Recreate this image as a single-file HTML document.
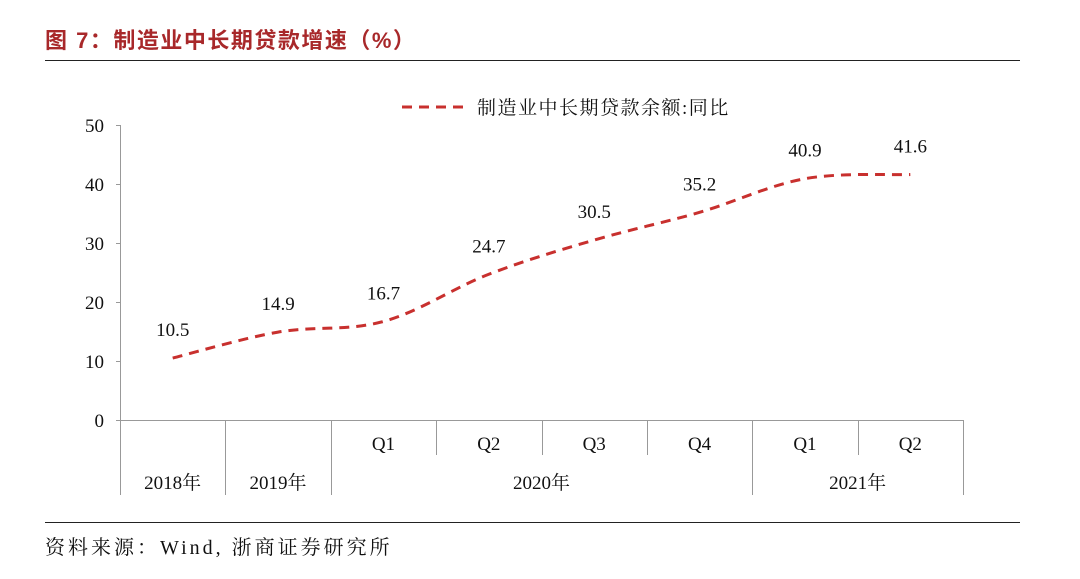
<!DOCTYPE html>
<html><head><meta charset="utf-8">
<style>
html,body{margin:0;padding:0;background:#fff;width:1080px;height:579px;overflow:hidden}
svg text{font-family:"Liberation Serif","Noto Serif CJK SC",serif}
</style></head>
<body>
<svg id="c" width="1080" height="579">
<text x="45" y="48" fill="#a8282a" font-size="22" font-weight="bold" letter-spacing="1.5" style='font-family:"Liberation Sans","Noto Sans CJK SC",sans-serif'>图  7：制造业中长期贷款增速（%）</text>
<line x1="45" y1="60.5" x2="1020" y2="60.5" stroke="#222" stroke-width="1"/>
<line x1="45" y1="522.5" x2="1020" y2="522.5" stroke="#222" stroke-width="1"/>
<text x="45" y="554" font-size="20" letter-spacing="3" fill="#111">资料来源：Wind, 浙商证券研究所</text>
<g>
<line x1="402" y1="107" x2="468" y2="107" stroke="#c8302e" stroke-width="3" stroke-dasharray="10,7"/>
<text x="477" y="114" font-size="19" letter-spacing="1.5" fill="#111">制造业中长期贷款余额:同比</text>
</g>
<g id="plot"></g>
</svg>
<script>
const categories=["2018年","2019年","Q1","Q2","Q3","Q4","Q1","Q2"];
const values=[10.5,14.9,16.7,24.7,30.5,35.2,40.9,41.6];
const yTicks=[0,10,20,30,40,50];
const groups=[{label:"2020年",from:2,to:5},{label:"2021年",from:6,to:7}];
const NS="http://www.w3.org/2000/svg";
const g=document.getElementById('plot');
const x0=120,x1=963,yb=420,yt=125;
const bw=(x1-x0)/categories.length;
const xS=i=>x0+bw*(i+0.5);
const yS=v=>yb-(v-0)/(50-0)*(yb-yt);
function mk(t,a,p){const e=document.createElementNS(NS,t);for(const k in a)e.setAttribute(k,a[k]);(p||g).appendChild(e);return e;}
let ax=mk('line',{x1:x0+.5,y1:yt,x2:x0+.5,y2:yb,stroke:'#999'});


yTicks.forEach(v=>{
 const tk=mk('line',{x1:x0-4,y1:yS(v)+.5,x2:x0,y2:yS(v)+.5,stroke:'#999'});
 
 
 const t=mk('text',{x:x0-16,y:yS(v)+7,'text-anchor':'end','font-size':19,fill:'#111'});
 t.textContent=v;
 
 
});
let xa=mk('line',{x1:x0,y1:yb+.5,x2:x1,y2:yb+.5,stroke:'#999'});


const inGroup=i=>groups.find(gr=>i>=gr.from&&i<=gr.to);
for(let i=0;i<=categories.length;i++){
 const x=x0+bw*i;
 const a=inGroup(i-1),b=inGroup(i);
 const short=a&&b&&a===b;
 const d=mk('line',{x1:Math.round(x)+.5,y1:yb,x2:Math.round(x)+.5,y2:short?455:495,stroke:'#999'});
 
 
}
categories.forEach((c,i)=>{
 const grp=inGroup(i);
 const t=mk('text',{x:xS(i),y:grp?450:489,'text-anchor':'middle','font-size':19,fill:'#111'});
 t.textContent=c;
 
 
});
groups.forEach(gr=>{
 const t=mk('text',{x:(xS(gr.from)+xS(gr.to))/2,y:489,'text-anchor':'middle','font-size':19,fill:'#111'});
 t.textContent=gr.label;
 
 
});
const pts=values.map((v,i)=>[xS(i),yS(v)]);
let d=`M${pts[0][0]},${pts[0][1]}`;
for(let i=0;i<pts.length-1;i++){
 const p0=pts[i-1]||pts[i],p1=pts[i],p2=pts[i+1],p3=pts[i+2]||p2;
 const t=0.17;
 const c1=[p1[0]+(p2[0]-p0[0])*t,p1[1]+(p2[1]-p0[1])*t];
 const c2=[p2[0]-(p3[0]-p1[0])*t,p2[1]-(p3[1]-p1[1])*t];
 d+=` C${c1[0]},${c1[1]} ${c2[0]},${c2[1]} ${p2[0]},${p2[1]}`;
}
const ln=mk('path',{d:d,fill:'none',stroke:'#c8302e','stroke-width':3,'stroke-dasharray':'10,7'});


values.forEach((v,i)=>{
 const t=mk('text',{x:xS(i),y:yS(v)-22,'text-anchor':'middle','font-size':19,fill:'#111'});
 t.textContent=v.toFixed(1);
 
 
});
</script>
</body></html>
